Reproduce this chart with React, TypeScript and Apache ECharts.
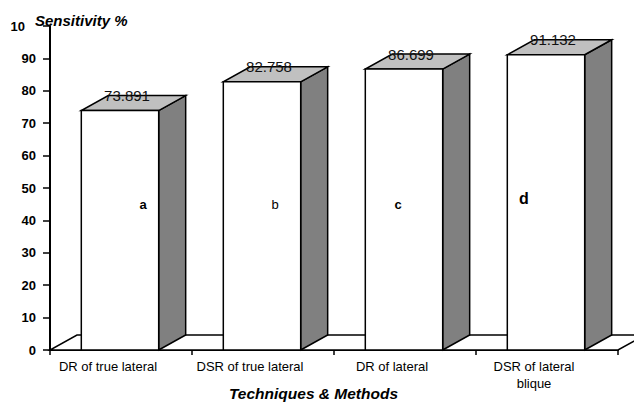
import React, { useEffect, useRef } from "react";
import * as echarts from "echarts";

const categories = [
  "DR of true lateral",
  "DSR of true lateral",
  "DR of lateral",
  "DSR of lateral\nblique",
];
const sensitivity = [73.891, 82.758, 86.699, 91.132];
const groupLetters = ["a", "b", "c", "d"];
const yMin = 0;
const yMax = 100;
const yStep = 10;
const yTitle = "Sensitivity %";
const xTitle = "Techniques & Methods";

// layout-only constants
const letterShiftX = [22, 12, -7, -23];
const letterShiftY = [0, 0, 0, -6];
const letterLevel = 45;
const FONT = "'Liberation Sans', Arial, Helvetica, sans-serif";

export default function App() {
  const ref = useRef<HTMLDivElement>(null);

  useEffect(() => {
    if (!ref.current) return;
    const chart = echarts.init(ref.current, undefined, { renderer: "svg" });
    const depthY = 15;

    const option: any = {
      animation: false,
      backgroundColor: "#ffffff",
      grid: { left: 50, top: 26, right: 16, bottom: 53, containLabel: false, outerBoundsMode: "none" },
      xAxis: {
        type: "category",
        data: categories,
        axisLine: { show: true, lineStyle: { color: "#000", width: 2 } },
        axisTick: { show: true, length: 5, lineStyle: { color: "#000", width: 1.5 } },
        axisLabel: {
          interval: 0,
          margin: 8,
          color: "#000",
          fontSize: 13,
          lineHeight: 17,
          fontFamily: FONT,
          padding: [0, 26, 0, 0],
        },
        splitLine: { show: false },
      },
      yAxis: {
        type: "value",
        min: yMin,
        max: yMax,
        interval: yStep,
        axisLine: { show: true, lineStyle: { color: "#000", width: 2 } },
        axisTick: { show: true, length: 7, lineStyle: { color: "#000", width: 1.5 } },
        splitLine: { show: false },
        axisLabel: {
          margin: 14,
          color: "#000",
          fontWeight: "bold",
          fontSize: 13,
          fontFamily: FONT,
          formatter: (v: number) => (v === yMax ? "{cut|10}" : String(v)),
          rich: {
            cut: {
              padding: [0, 11, 0, 0],
              fontWeight: "bold",
              fontSize: 13,
              fontFamily: FONT,
              color: "#000",
            },
          },
        },
      },
      graphic: [
        {
          type: "text",
          left: 35,
          top: 13,
          style: {
            text: yTitle,
            font: `italic bold 15px ${FONT}`,
            fill: "#000",
          },
        },
        {
          type: "text",
          x: 313.5,
          y: 393,
          style: {
            text: xTitle,
            font: `italic bold 15.5px ${FONT}`,
            fill: "#000",
            align: "center",
            verticalAlign: "middle",
          },
        },
      ],
      series: [
        {
          type: "custom",
          name: "floor",
          data: [[0]],
          encode: { x: 0 },
          renderItem: (params: any, api: any) => {
            const c0 = api.coord([0, 0]);
            const band = api.size([1, 0])[0];
            const dx = band * 0.19;
            const left = c0[0] - band / 2;
            const right = left + band * categories.length;
            const yb = c0[1];
            return {
              type: "polygon",
              shape: {
                points: [
                  [left, yb],
                  [right, yb],
                  [right + dx, yb - depthY],
                  [left + dx, yb - depthY],
                ],
              },
              style: { fill: "#fff", stroke: "#000", lineWidth: 1.5 },
            };
          },
        },
        {
          type: "custom",
          name: "Sensitivity",
          data: sensitivity.map((v, i) => [i, v]),
          encode: { x: 0, y: 1 },
          renderItem: (params: any, api: any) => {
            const idx = api.value(0);
            const v = api.value(1);
            const base = api.coord([idx, 0]);
            const top = api.coord([idx, v]);
            const band = api.size([1, 0])[0];
            const w = band * 0.545;
            const dx = band * 0.19;
            const x0 = base[0] - w / 2 - 1;
            const x1 = x0 + w;
            const yb = base[1];
            const yt = top[1];
            const lp = api.coord([idx, letterLevel]);
            const i = params.dataIndex;
            const isD = i === 3;
            const stroke = { stroke: "#000", lineWidth: 1.5 };
            return {
              type: "group",
              children: [
                {
                  type: "polygon",
                  shape: {
                    points: [
                      [x1, yb],
                      [x1 + dx, yb - depthY],
                      [x1 + dx, yt - depthY],
                      [x1, yt],
                    ],
                  },
                  style: { fill: "#808080", ...stroke },
                },
                {
                  type: "polygon",
                  shape: {
                    points: [
                      [x0, yt],
                      [x1, yt],
                      [x1 + dx, yt - depthY],
                      [x0 + dx, yt - depthY],
                    ],
                  },
                  style: { fill: "#c0c0c0", ...stroke },
                },
                {
                  type: "rect",
                  shape: { x: x0, y: yt, width: w, height: yb - yt },
                  style: { fill: "#fff", ...stroke },
                },
                {
                  type: "text",
                  style: {
                    text: v.toFixed(3),
                    x: base[0] + 6,
                    y: yt - 15,
                    align: "center",
                    verticalAlign: "middle",
                    font: `15px ${FONT}`,
                    fill: "#111",
                  },
                },
                {
                  type: "text",
                  style: {
                    text: groupLetters[i],
                    x: base[0] + letterShiftX[i],
                    y: lp[1] + letterShiftY[i],
                    align: "center",
                    verticalAlign: "middle",
                    font: isD
                      ? `bold 16px ${FONT}`
                      : i === 1
                      ? `13px ${FONT}`
                      : `bold 13px ${FONT}`,
                    fill: "#000",
                  },
                },
              ],
            };
          },
        },
      ],
    };

    chart.setOption(option);
    return () => {
      chart.dispose();
    };
  }, []);

  return (
    <div
      ref={ref}
      style={{
        position: "fixed",
        left: 0,
        top: 0,
        width: 634,
        height: 403,
        background: "#fff",
      }}
    />
  );
}
